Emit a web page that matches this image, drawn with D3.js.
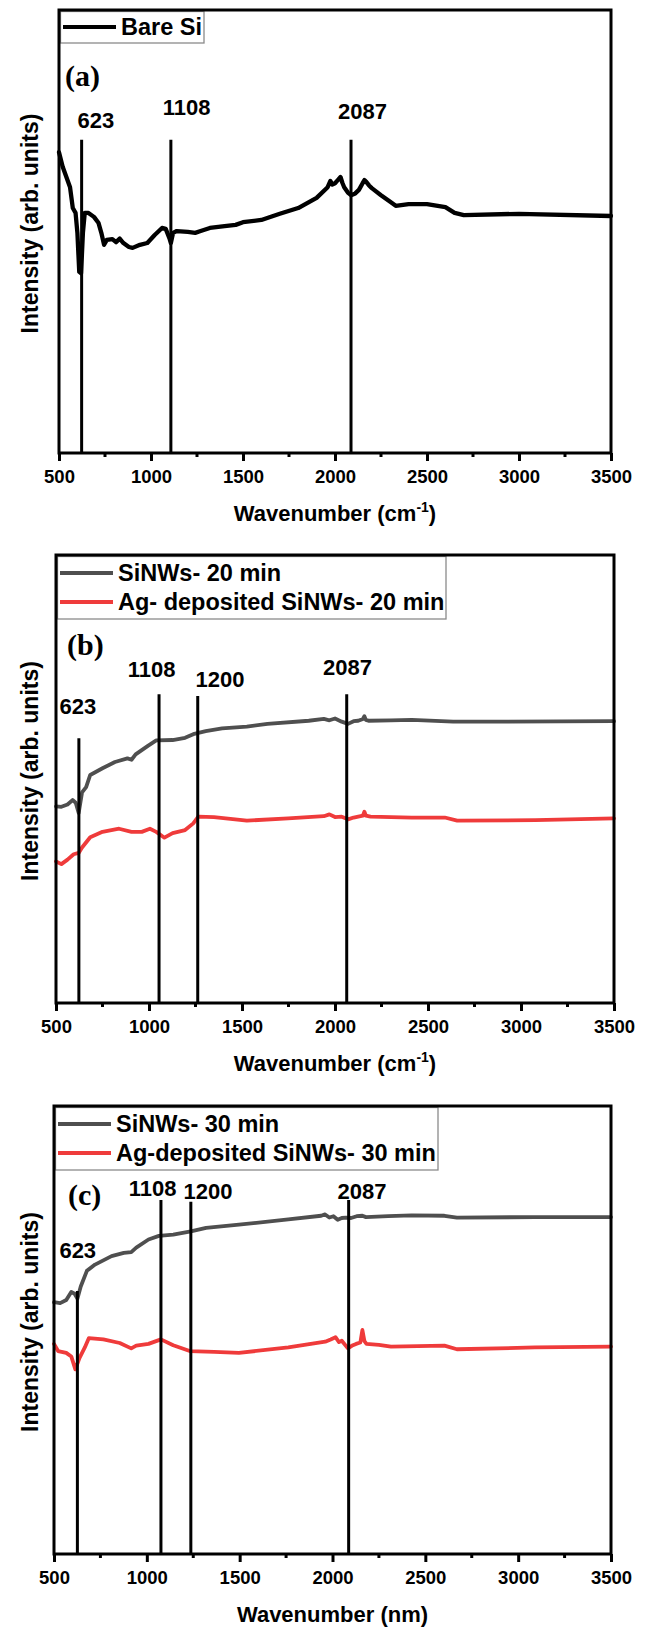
<!DOCTYPE html>
<html><head><meta charset="utf-8">
<script src="https://cdn.jsdelivr.net/npm/d3@7"></script>
<style>html,body{margin:0;padding:0;background:#fff}</style>
</head><body>
<script>
// ---------- DATA ----------
const xTicks = [500,1000,1500,2000,2500,3000,3500];

// (a) Bare Si
const bareSiX = [500,520,560,575,590,600,610,620,630,640,660,690,715,730,745,760,790,810,830,850,880,900,940,980,1020,1060,1080,1100,1108,1120,1140,1200,1240,1270,1320,1400,1460,1500,1600,1700,1800,1900,1960,1975,1985,2000,2015,2030,2040,2050,2070,2087,2110,2130,2150,2160,2170,2185,2200,2250,2300,2330,2400,2500,2600,2650,2700,3000,3500];
const bareSiY = [67.9,64.6,60.0,55.3,54.2,49.7,40.9,40.6,49.7,54.2,54.2,53.3,51.9,49.7,47.0,48.1,48.3,47.6,48.4,47.4,46.5,46.3,47.0,47.4,49.2,50.8,50.6,48.5,47.4,49.7,50.1,49.9,49.7,50.1,50.8,51.2,51.5,52.1,52.6,54.0,55.3,57.6,60.0,61.4,60.6,60.9,61.6,62.3,61.0,60.0,58.8,58.2,58.6,59.4,60.9,61.6,61.2,60.4,59.8,58.2,56.7,55.8,56.2,56.2,55.5,54.2,53.7,54.0,53.5];

// (b) 20 min
const sinw20X = [500,529,562,589,606,622,640,662,684,750,817,884,906,928,994,1039,1127,1194,1238,1305,1393,1526,1637,1859,1940,1970,2000,2036,2070,2100,2125,2150,2158,2166,2180,2300,2413,2635,2857,3500];
const sinw20Y = [43.9,43.8,44.3,45.3,44.7,42.4,47.0,48.2,50.9,52.4,53.8,54.6,54.3,55.5,57.4,58.6,58.7,59.2,60.0,60.7,61.3,61.7,62.3,63.0,63.4,63.1,63.5,62.8,62.3,62.9,63.0,63.4,64.0,63.2,63.0,63.1,63.2,62.8,62.8,62.9];
const ag20X = [500,529,562,595,622,640,684,750,839,906,961,1005,1039,1083,1127,1194,1238,1265,1349,1526,1748,1940,1970,2000,2036,2070,2100,2125,2150,2158,2166,2191,2413,2590,2657,3078,3500];
const ag20Y = [31.6,31.0,32.0,33.2,33.5,34.7,37.0,38.2,38.9,38.2,38.2,38.9,38.2,36.9,37.9,38.6,40.1,41.6,41.5,40.7,41.2,41.7,42.1,41.5,41.6,41.0,41.4,41.6,41.8,42.7,41.8,41.6,41.4,41.4,40.7,40.8,41.2];

// (c) 30 min
const sinw30X = [500,533,566,593,611,626,644,677,721,810,876,916,943,1009,1065,1142,1237,1319,1496,1762,1939,1960,1983,2005,2028,2050,2072,2100,2130,2161,2180,2300,2426,2603,2670,3090,3500];
const sinw30Y = [56.2,56.0,56.7,58.5,58.1,57.0,59.7,63.2,64.6,66.5,67.2,67.4,68.4,70.2,71.0,71.3,72.0,72.8,73.5,74.7,75.5,75.8,75.1,75.4,74.6,75.0,75.1,75.0,75.4,75.5,75.2,75.4,75.6,75.5,75.1,75.2,75.2];
const ag30X = [500,522,566,593,615,637,666,688,766,854,916,943,1009,1076,1142,1231,1363,1496,1762,1961,1990,2016,2035,2050,2083,2110,2127,2150,2161,2172,2183,2250,2315,2603,2670,3090,3500];
const ag30Y = [46.9,45.3,44.9,44.1,41.2,43.7,46.1,48.2,47.9,47.1,45.9,46.5,46.9,47.9,46.6,45.3,45.1,44.9,46.1,47.4,47.9,48.4,47.3,47.6,45.9,46.6,46.9,47.2,50.0,47.5,46.9,46.7,46.3,46.5,45.7,46.1,46.3];

// peak markers: line positions, labels, line tops (intensity units)
const peaksA = {pos:[623,1108,2087], label:['623','1108','2087'], top:[70.7,70.7,70.7]};
const peaksB = {pos:[623,1054,1262,2063], label:['623','1108','1200','2087'], top:[59.1,68.9,68.5,68.9]};
const peaksC = {pos:[626,1076,1237,2087], label:['623','1108','1200','2087'], top:[58.7,79.0,78.6,79.0]};
// label anchors (wavenumber centre, intensity baseline)
const peakLabA = {x:[701,1193,2149], y:[73.4,76.3,75.4]};
const peakLabB = {x:[618,1014,1382,2067], y:[64.4,72.7,70.5,73.2]};
const peakLabC = {x:[628,1031,1329,2159], y:[66.1,80.0,79.3,79.3]};

const legendA = ['Bare Si'];
const legendB = ['SiNWs- 20 min','Ag- deposited SiNWs- 20 min'];
const legendC = ['SiNWs- 30 min','Ag-deposited SiNWs- 30 min'];

// ---------- LAYOUT ----------
const W = 646, H = 1629;
const SANS = "'Liberation Sans', Arial, sans-serif";
const SERIF = "'Liberation Serif', 'Times New Roman', serif";
const GRAY = '#4f4f4f', RED = '#ef3b3b';

const panels = [
  {tag:'(a)', box:{l:59,r:611,t:10,b:453}, series:[{x:bareSiX,y:bareSiY,c:'#000',w:4.3}],
   legend:legendA, legBox:{r:204,b:43}, legRows:[27], peaks:peaksA, lab:peakLabA, tagPos:[65,86], xunit:'cm'},
  {tag:'(b)', box:{l:56,r:614,t:555,b:1003}, series:[{x:sinw20X,y:sinw20Y,c:GRAY,w:3.8},{x:ag20X,y:ag20Y,c:RED,w:3.8}],
   legend:legendB, legBox:{r:446,b:619}, legRows:[573,602], peaks:peaksB, lab:peakLabB, tagPos:[67,655], xunit:'cm'},
  {tag:'(c)', box:{l:54,r:611,t:1106,b:1554}, series:[{x:sinw30X,y:sinw30Y,c:GRAY,w:3.8},{x:ag30X,y:ag30Y,c:RED,w:3.8}],
   legend:legendC, legBox:{r:438,b:1170}, legRows:[1124,1153], peaks:peaksC, lab:peakLabC, tagPos:[68,1205], xunit:'nm'}
];

const svg = d3.select('body').append('svg').attr('width',W).attr('height',H);

panels.forEach(p => {
  const {l,r,t,b} = p.box;
  const x = d3.scaleLinear().domain([500,3500]).range([l,r]);
  const y = d3.scaleLinear().domain([0,100]).range([b,t]);
  const g = svg.append('g');

  // curves
  p.series.forEach(s => {
    const pts = s.x.map((v,i)=>[v,s.y[i]]);
    g.append('path').datum(pts)
      .attr('fill','none').attr('stroke',s.c).attr('stroke-width',s.w)
      .attr('stroke-linejoin','round').attr('stroke-linecap','round')
      .attr('d', d3.line().x(d=>x(d[0])).y(d=>y(d[1])));
  });

  // peak lines
  p.peaks.pos.forEach((v,i) => {
    g.append('line').attr('x1',x(v)).attr('x2',x(v)).attr('y1',y(p.peaks.top[i])).attr('y2',b)
      .attr('stroke','#000').attr('stroke-width',3);
    g.append('text').attr('x',x(p.lab.x[i])).attr('y',y(p.lab.y[i]))
      .attr('text-anchor','middle').attr('font-family',SANS).attr('font-weight','bold')
      .attr('font-size',22).text(p.peaks.label[i]);
  });

  // panel tag
  g.append('text').attr('x',p.tagPos[0]).attr('y',p.tagPos[1]).attr('font-family',SERIF)
    .attr('font-weight','bold').attr('font-size',30).text(p.tag);

  // legend
  g.append('rect').attr('x',l+1.5).attr('y',t+1.5).attr('width',p.legBox.r-l-1.5).attr('height',p.legBox.b-t-1.5)
    .attr('fill','#fff').attr('stroke','#8a8a8a').attr('stroke-width',1.3);
  p.legend.forEach((name,i) => {
    const yy = p.legRows[i];
    g.append('line').attr('x1',l+4).attr('x2',l+57).attr('y1',yy).attr('y2',yy)
      .attr('stroke',p.series[i].c).attr('stroke-width',4);
    g.append('text').attr('x',l+62).attr('y',yy+8).attr('font-family',SANS).attr('font-weight','bold')
      .attr('font-size',23.5).text(name);
  });

  // x axis with major + minor ticks
  const ax = g.append('g').attr('transform',`translate(0,${b})`);
  ax.call(d3.axisBottom(x).tickValues(xTicks).tickSize(8).tickFormat(d3.format('d')));
  ax.select('.domain').remove();
  ax.selectAll('.tick line').attr('stroke','#000').attr('stroke-width',3);
  ax.selectAll('.tick text').attr('font-family',SANS).attr('font-weight','bold')
    .attr('font-size',18.5).attr('fill','#000').attr('dy','1.05em');
  const minor = d3.range(750,3500,500);
  ax.selectAll('.minor').data(minor).enter().append('line')
    .attr('x1',d=>x(d)).attr('x2',d=>x(d)).attr('y1',0).attr('y2',4)
    .attr('stroke','#000').attr('stroke-width',3);

  // frame
  g.append('rect').attr('x',l).attr('y',t).attr('width',r-l).attr('height',b-t)
    .attr('fill','none').attr('stroke','#000').attr('stroke-width',3);

  // axis titles
  const xt = g.append('text').attr('x',(l+r)/2).attr('y',b+68).attr('text-anchor','middle')
    .attr('font-family',SANS).attr('font-weight','bold').attr('font-size',22);
  if (p.xunit === 'cm') {
    xt.append('tspan').text('Wavenumber (cm');
    xt.append('tspan').attr('dy',-9).attr('font-size',14).text('-1');
    xt.append('tspan').attr('dy',9).text(')');
  } else {
    xt.text('Wavenumber (nm)');
  }
  g.append('text').attr('transform',`translate(30,${(t+b)/2-8}) rotate(-90)`)
    .attr('text-anchor','middle').attr('dominant-baseline','central')
    .attr('font-family',SANS).attr('font-weight','bold').attr('font-size',23)
    .text('Intensity (arb. units)');
});
</script>
</body></html>
